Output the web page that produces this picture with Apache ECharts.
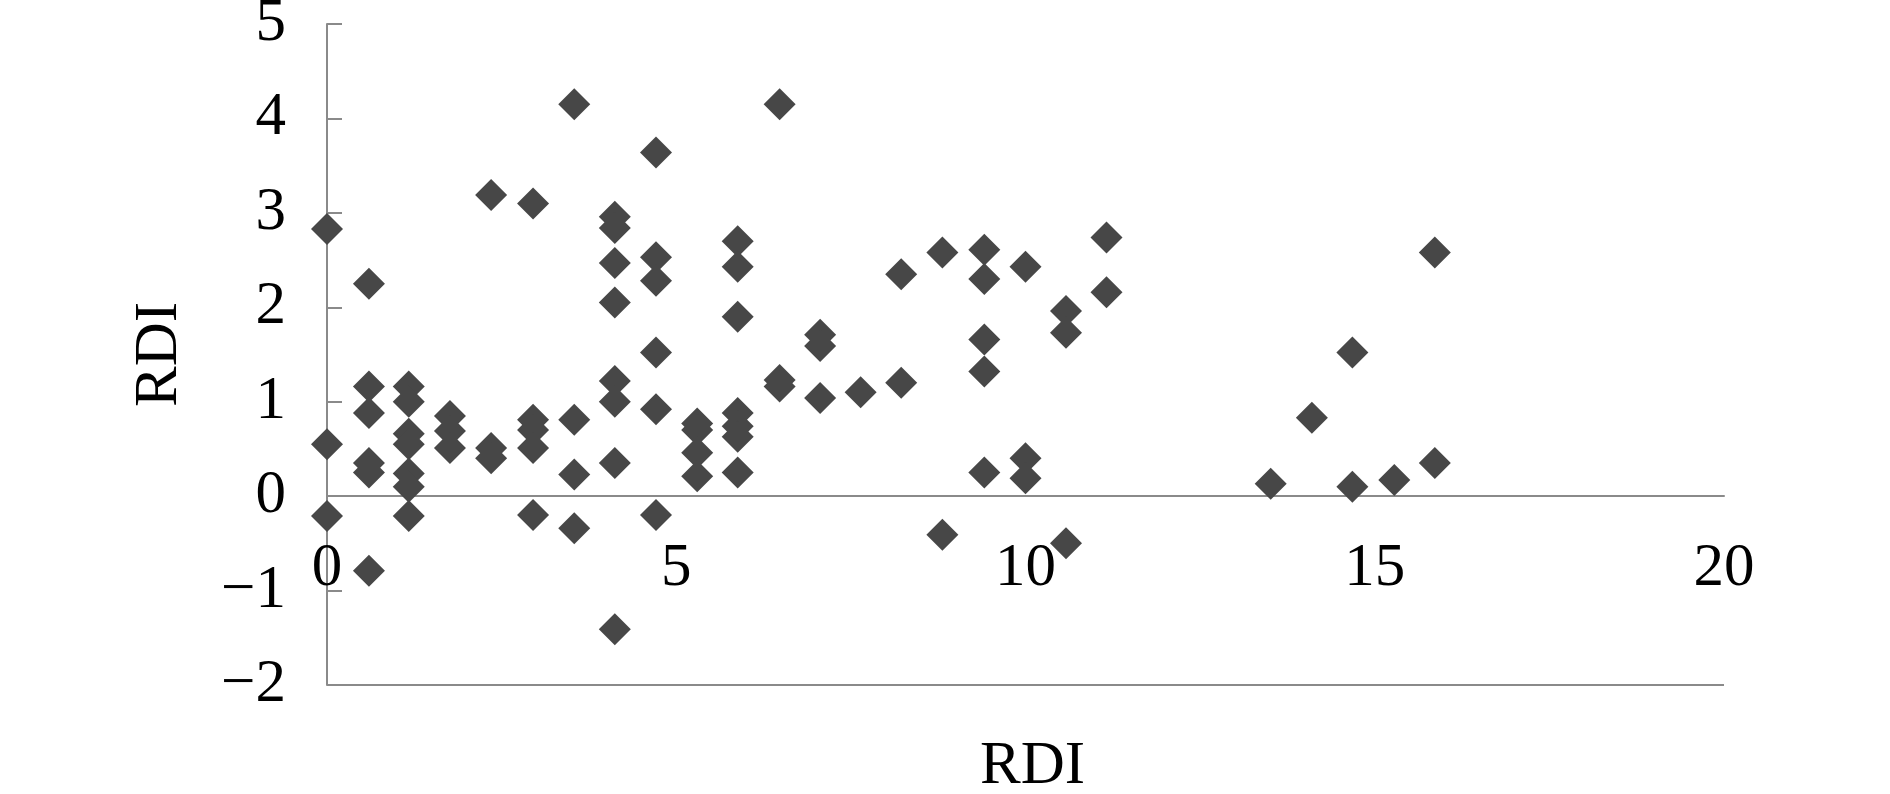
<!DOCTYPE html>
<html>
<head>
<meta charset="utf-8">
<script src="https://cdn.jsdelivr.net/npm/echarts@6/dist/echarts.min.js"></script>
<style>
  html, body { margin: 0; padding: 0; background: #fff; }
  #chart { width: 1890px; height: 794px; }
</style>
</head>
<body>
<div id="chart"></div>
<script>
// x positions of the point columns, and the y values in each column
var xCols = [0, 0.6, 1.17, 1.76, 2.35, 2.95, 3.54, 4.12, 4.71, 5.3, 5.88, 6.48, 7.06, 7.64,
  8.22, 8.81, 9.41, 10.0, 10.58, 11.16, 13.51, 14.1, 14.68, 15.28, 15.86];
var yCols = [
  [2.83, 0.55, -0.21],
  [2.25, 1.16, 0.88, 0.35, 0.25, -0.79],
  [1.16, 1.0, 0.66, 0.55, 0.24, 0.1, -0.21],
  [0.85, 0.69, 0.51],
  [3.19, 0.51, 0.4],
  [3.1, 0.81, 0.7, 0.51, -0.2],
  [4.15, 0.81, 0.23, -0.34],
  [2.96, 2.84, 2.47, 2.05, 1.22, 1.0, 0.35, -1.41],
  [3.64, 2.53, 2.28, 1.52, 0.92, -0.2],
  [0.77, 0.7, 0.46, 0.21],
  [2.7, 2.43, 1.9, 0.88, 0.74, 0.63, 0.25],
  [4.15, 1.23, 1.16],
  [1.71, 1.59, 1.04],
  [1.1],
  [2.35, 1.2],
  [2.58, -0.41],
  [2.61, 2.3, 1.66, 1.32, 0.25],
  [2.43, 0.4, 0.19],
  [1.96, 1.73, -0.5],
  [2.74, 2.16],
  [0.13],
  [0.83],
  [1.52, 0.1],
  [0.17],
  [2.58, 0.35]
];
var xTicks = [0, 5, 10, 15, 20];
var yTicks = [-2, -1, 0, 1, 2, 3, 4, 5];

var points = [];
xCols.forEach(function(x, i) {
  yCols[i].forEach(function(y) {
    points.push([x, y]);
  });
});

var axisGray = "#8a8a8a";
var font = "'Liberation Serif', 'Times New Roman', serif";
var fs = 61;

var chart = echarts.init(document.getElementById("chart"));
chart.setOption({
  animation: false,
  grid: { left: 327, right: 166, top: 24, bottom: 109, outerBoundsMode: "none", containLabel: false },
  xAxis: {
    type: "value",
    min: xTicks[0],
    max: xTicks[xTicks.length - 1],
    interval: 5,
    name: "RDI",
    nameLocation: "middle",
    nameGap: 51,
    nameTextStyle: { fontFamily: font, fontSize: fs, color: "#000", padding: [0, 0, 0, 14] },
    axisLine: { onZero: true, lineStyle: { color: axisGray, width: 2 } },
    axisTick: { show: false },
    splitLine: { show: false },
    // labels sit just under the zero line, not at the bottom of the plot
    axisLabel: { fontFamily: font, fontSize: fs, color: "#000", margin: -147 }
  },
  yAxis: {
    type: "value",
    min: yTicks[0],
    max: yTicks[yTicks.length - 1],
    interval: 1,
    name: "RDI",
    nameLocation: "middle",
    nameGap: 137,
    nameTextStyle: { fontFamily: font, fontSize: fs, color: "#000" },
    axisLine: { show: true, lineStyle: { color: axisGray, width: 2 } },
    axisTick: { show: true, inside: true, length: 15, lineStyle: { color: axisGray, width: 2 } },
    splitLine: { show: false },
    axisLabel: {
      fontFamily: font, fontSize: fs, color: "#000", margin: 41, padding: [16, 0, 0, 0],
      formatter: function(v) { return String(v).replace("-", "\u2212"); }
    }
  },
  series: [
    {
      type: "scatter",
      symbol: "diamond",
      symbolSize: 32,
      itemStyle: { color: "#474747", opacity: 1 },
      data: points,
      markLine: {
        silent: true,
        symbol: "none",
        label: { show: false },
        lineStyle: { color: axisGray, width: 2, type: "solid" },
        data: [{ yAxis: yTicks[0] }]
      }
    }
  ]
});
</script>
</body>
</html>
